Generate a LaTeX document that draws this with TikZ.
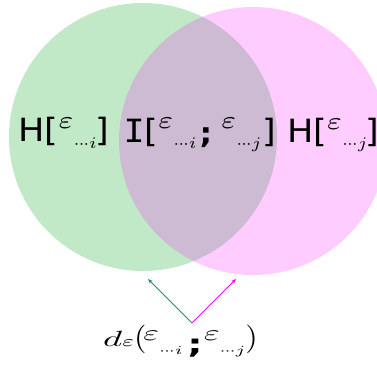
\documentclass[tikz,border=0pt]{standalone}
\usepackage{fontspec}
\usepackage{amsmath,amssymb}
\setsansfont{DejaVu Sans}
\newfontfamily\monoI{DejaVu Sans Mono}
\definecolor{vgreen}{RGB}{193,233,200}
\definecolor{vmag}{RGB}{255,0,255}
\definecolor{agreen}{RGB}{50,135,100}
\usetikzlibrary{arrows.meta}
\tikzset{
  lbl/.style={inner sep=0pt, outer sep=0pt, anchor=base west, xscale=3.5, yscale=3.2},
  dlbl/.style={inner sep=0pt, outer sep=0pt, anchor=base west, xscale=3.2, yscale=2.2},
  arr/.style={line width=0.8pt, -{Stealth[length=5pt,width=4pt]}}
}
\newcommand{\dts}[2]{\scalebox{#1}{$\scriptstyle\mathord{\cdot}\mkern-1mu\mathord{\cdot}\mkern-1mu\mathord{\cdot}#2$}}
\newcommand{\epsi}[1]{\raisebox{4.1pt}{\scalebox{1.15}[1.1]{$\scriptstyle\varepsilon$}}\raisebox{-2pt}{\dts{0.72}{#1}}}
\newcommand{\epsd}[1]{\raisebox{2.7pt}{\scalebox{1.05}[1]{$\varepsilon$}}\raisebox{-4pt}{\dts{0.8}{#1}}}
\newcommand{\semi}[2]{\raisebox{#2}{\sffamily\bfseries\fontsize{#1}{#1}\selectfont;}}
\begin{document}
\begin{tikzpicture}[x=1pt,y=-1pt]
\useasboundingbox (0,0) rectangle (377,365);
\clip (0,0) rectangle (377,365);
\fill[vgreen] (143,137) circle[radius=134];
\fill[vmag, fill opacity=0.2] (253,141) circle[radius=134];
\node[lbl] (hi) at (18.5,141.7) {\sffamily H[\epsi{i}\hspace{-0.4pt}]};
\node[lbl] (iij) at (123.5,142) {{\monoI I}\sffamily[\epsi{i}\hspace{1pt}\semi{9}{-0.6pt}\hspace{2.5pt}\epsi{j}\hspace{0.4pt}]};
\node[lbl] (hj) at (287,142.5) {\sffamily H[\epsi{j}\hspace{-0.6pt}]};
\node[dlbl] (d) at (103,346) {\scalebox{1.15}[1]{$d$}\raisebox{0pt}{$\scriptstyle\varepsilon$}\scalebox{1}[1.3]{(}\hspace{-1pt}\epsd{i}\hspace{1.6pt}\semi{12}{-3.4pt}\hspace{0.4pt}\epsd{j}\hspace{0.1pt}\scalebox{1}[1.3]{)}};
\coordinate (s) at (192,323);
\coordinate (tg) at (148,279);
\coordinate (tm) at (236,279);
\draw[arr, agreen] (s) -- (tg);
\draw[arr, vmag] (s) -- (tm);
\end{tikzpicture}
\end{document}
